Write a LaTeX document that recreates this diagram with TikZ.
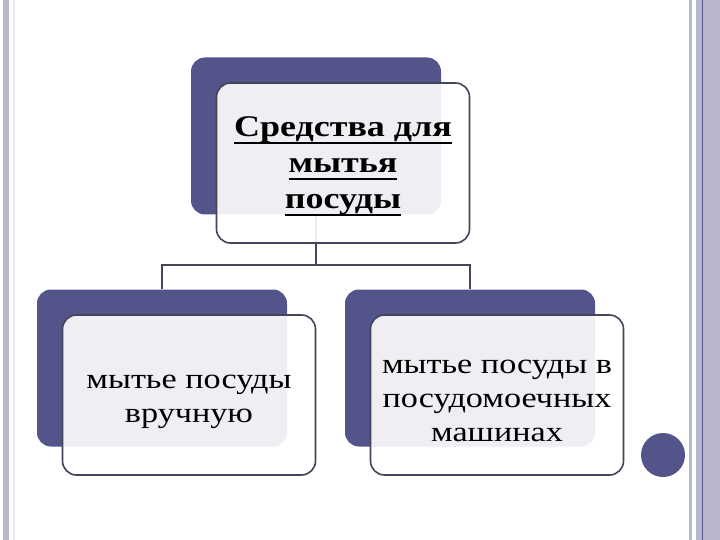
\documentclass[tikz,border=0pt]{standalone}
\usepackage{fontspec}
\setmainfont[FakeStretch=1.2]{Liberation Serif}
\usepackage{tikz}
\usetikzlibrary{arrows,positioning}
\definecolor{slate}{RGB}{82,84,138}
\definecolor{edgegrey}{RGB}{68,68,90}
\definecolor{bandgrey}{RGB}{184,183,204}
\definecolor{faintgrey}{RGB}{232,232,240}
% underline with a fixed rule
\newsavebox{\ulsave}
\newcommand{\ulbox}[1]{\sbox{\ulsave}{#1}\rlap{\rule[-7.5pt]{\wd\ulsave}{1.8pt}}\usebox{\ulsave}}
\tikzset{
    %Define style for back boxes
    backrect/.style={
           rectangle,
           rounded corners=14pt,
           fill=slate,
           minimum width=250pt,
           minimum height=157pt},
    %Define style for front boxes
    frontrect/.style={
           rectangle,
           rounded corners=14pt,
           draw=edgegrey, line width=1.6pt,
           fill=white, fill opacity=0.9,
           minimum width=253pt,
           minimum height=160pt},
    %Define style for box texts
    boxtext/.style={
           align=center,
           inner sep=0pt,
           font=\fontsize{28.5}{34}\selectfont},
    % Define connector style
    link/.style={
           draw=edgegrey,
           line width=1.6pt}
}

\begin{document}
\begin{tikzpicture}[x=1pt,y=-1pt]
\useasboundingbox (0,0) rectangle (720,540);
% slide frame
\fill[bandgrey] (3,0) rectangle (9,540);
\fill[faintgrey] (13,0) rectangle (14.5,540);
\fill[bandgrey] (689,0) rectangle (692,540);
\fill[bandgrey] (696,0) rectangle (720,540);
\fill[slate] (702,0) rectangle (703.3,540);
\node[circle, fill=slate, minimum size=44pt, inner sep=0pt] (dot) at (663,455) {};
% back boxes
\node[backrect] (topb) at (316,136) {};
\node[backrect] (leftb) at (162,368) {};
\node[backrect] (rightb) at (470,368) {};
\draw[link] (topb.south) -- ++(0,50) -| (leftb.north);
\draw[link] (topb.south) -- ++(0,50) -| (rightb.north);
% front boxes
\node[frontrect] (topf) at ([shift={(27,27)}]topb.center) {};
\node[frontrect] (leftf) at ([shift={(27,27)}]leftb.center) {};
\node[frontrect] (rightf) at ([shift={(27,27)}]rightb.center) {};
% texts
\node[boxtext, font=\fontsize{30}{36}\selectfont\bfseries] (topt) at ([yshift=-3pt]topf.center)
  {\ulbox{Средства для}\\\ulbox{мытья}\\\ulbox{посуды}};
\node[boxtext] (leftt) at ([yshift=-7pt]leftf.center) {мытье посуды\\вручную};
\node[boxtext] (rightt) at ([yshift=-6pt]rightf.center) {мытье посуды в\\посудомоечных\\машинах};
\end{tikzpicture}
\end{document}
